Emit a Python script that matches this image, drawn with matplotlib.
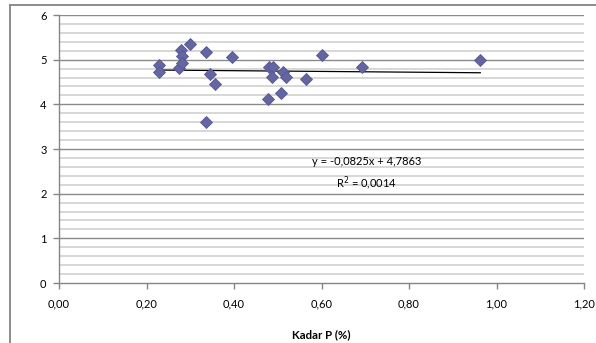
import matplotlib
matplotlib.use("Agg")
import matplotlib.pyplot as plt
from matplotlib.lines import Line2D
from matplotlib.ticker import MultipleLocator, FuncFormatter
import numpy as np

plt.rcParams['font.family'] = ['Lato', 'DejaVu Sans']

kadar_p = [0.229, 0.229, 0.275, 0.278, 0.281, 0.280, 0.299, 0.337, 0.337, 0.346,
           0.357, 0.395, 0.478, 0.481, 0.488, 0.487, 0.507, 0.513, 0.519, 0.565,
           0.600, 0.693, 0.963]
values = [4.88, 4.73, 4.81, 5.22, 5.08, 4.93, 5.35, 5.18, 3.60, 4.68,
          4.45, 5.05, 4.12, 4.84, 4.84, 4.62, 4.26, 4.73, 4.62, 4.56,
          5.10, 4.84, 4.985]
slope = -0.0825
intercept = 4.7863
r2 = 0.0014
x_label = "Kadar P (%)"

W, H = 596, 343
fig = plt.figure(figsize=(W / 100, H / 100), dpi=100)
ax = fig.add_axes([59 / W, 1 - 283 / H, (584 - 59) / W, (283 - 15) / H])

ax.set_xlim(0, 1.2)
ax.set_ylim(0, 6)

# grid
for yv in np.arange(0.2, 6.0001, 0.2):
    if abs(yv - round(yv)) < 1e-6:
        ax.axhline(yv, color='#8a8a8a', lw=1.0, zorder=1)
    else:
        ax.axhline(yv, color='#d4d4d4', lw=1.3, zorder=1)

# trendline
xs = np.array([min(kadar_p), max(kadar_p)])
ax.plot(xs, slope * xs + intercept, color='black', lw=0.9, zorder=2)

ax.plot(kadar_p, values, linestyle='none', marker='D', ms=6.0,
        markerfacecolor='#6466a3', markeredgecolor='#55578f', markeredgewidth=0.6, zorder=3)

ax.xaxis.set_major_locator(MultipleLocator(0.2))
ax.yaxis.set_major_locator(MultipleLocator(1))
ax.xaxis.set_major_formatter(FuncFormatter(lambda v, p: f"{v:.2f}".replace('.', ',')))
ax.yaxis.set_major_formatter(FuncFormatter(lambda v, p: f"{int(round(v))}"))

for s in ['top', 'right']:
    ax.spines[s].set_visible(False)
for s in ['left', 'bottom']:
    ax.spines[s].set_color('#868686')
    ax.spines[s].set_linewidth(1.0)

ax.tick_params(axis='both', colors='#868686', labelcolor='black', labelsize=8,
               length=4, width=1.0, direction='out')
ax.tick_params(axis='x', pad=7)
ax.tick_params(axis='y', pad=5)

ax.set_xlabel(x_label, fontsize=8.2, fontweight='bold', labelpad=14)

eq = f"y = {slope:.4f}x + {intercept:.4f}".replace('.', ',')
r2t = "R$^{2}$ = " + f"{r2:.4f}".replace('.', ',')
ax.text(0.703, 2.71, eq, fontsize=8, ha='center', va='center', zorder=4)
ax.text(0.703, 2.24, r2t, fontsize=8, ha='center', va='center', zorder=4)

# outer chart frame
fig.add_artist(Line2D([10 / W, 10 / W], [0, 1 - 5 / H], color='#8c8c8c', lw=1.4, transform=fig.transFigure))
fig.add_artist(Line2D([10 / W, 1], [1 - 5 / H, 1 - 5 / H], color='#8c8c8c', lw=1.4, transform=fig.transFigure))

fig.savefig("out.png", dpi=100, facecolor='white')
